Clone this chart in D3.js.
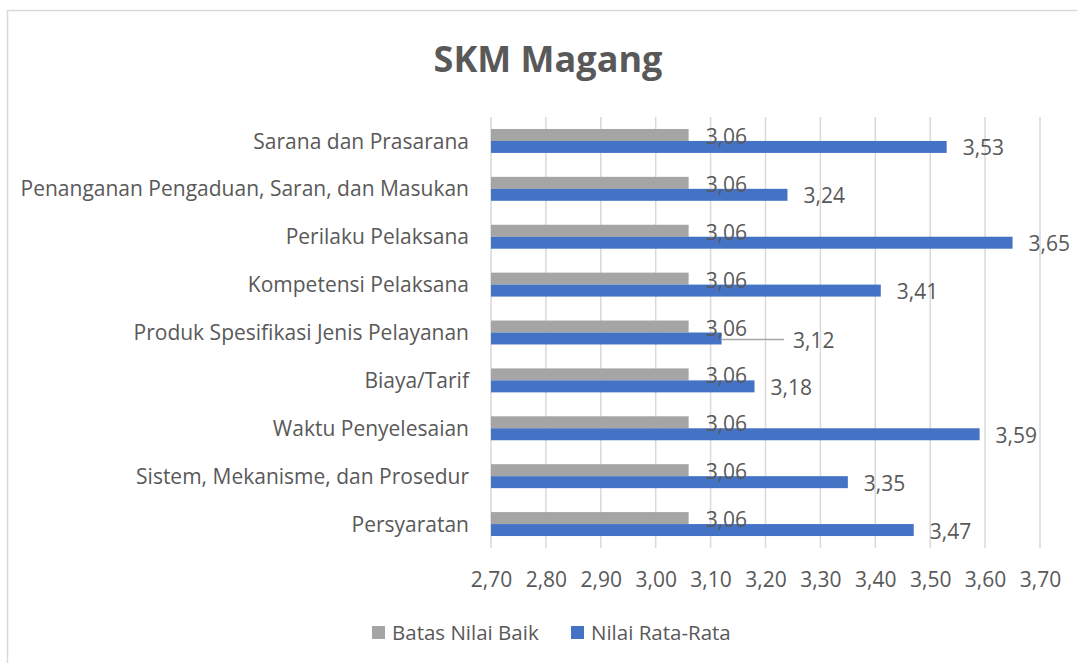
<!DOCTYPE html>
<html>
<head>
<meta charset="utf-8">
<script src="https://cdn.jsdelivr.net/npm/d3@7"></script>
<style>
  body { margin: 0; background: #fff; }
  svg text { font-family: "Open Sans", "Liberation Sans", sans-serif; fill: #595959; }
</style>
</head>
<body>
<svg id="chart" width="1077" height="663"></svg>
<script>
// categories, top to bottom as shown
var categories = [
  "Sarana dan Prasarana",
  "Penanganan Pengaduan, Saran, dan Masukan",
  "Perilaku Pelaksana",
  "Kompetensi Pelaksana",
  "Produk Spesifikasi Jenis Pelayanan",
  "Biaya/Tarif",
  "Waktu Penyelesaian",
  "Sistem, Mekanisme, dan Prosedur",
  "Persyaratan"
];
var batasNilaiBaik = [3.06, 3.06, 3.06, 3.06, 3.06, 3.06, 3.06, 3.06, 3.06];
var nilaiRataRata  = [3.53, 3.24, 3.65, 3.41, 3.12, 3.18, 3.59, 3.35, 3.47];
var seriesNames = ["Batas Nilai Baik", "Nilai Rata-Rata"];
var seriesColors = ["#A5A5A5", "#4472C4"];
var xTicks = [2.7, 2.8, 2.9, 3.0, 3.1, 3.2, 3.3, 3.4, 3.5, 3.6, 3.7];

var svg = d3.select("#chart");
var fmt = function(v){ return d3.format(".2f")(v).replace(".", ","); };

// chart border (runs off the right/bottom of the picture)
svg.append("rect")
   .attr("x", 7.5).attr("y", 10.5)
   .attr("width", 1200).attr("height", 800)
   .attr("fill", "none").attr("stroke", "#D9D9D9").attr("stroke-width", 1.5);

svg.append("text")
   .attr("x", 548).attr("y", 72)
   .attr("text-anchor", "middle")
   .style("font-size", "36px").style("font-weight", "bold")
   .text("SKM Magang");

var x = d3.scaleLinear().domain([2.7, 3.7]).range([491, 1040]);
var y = d3.scaleBand().domain(categories).range([117, 548])
          .paddingInner(0.5).paddingOuter(0.25);
var ySub = d3.scaleBand().domain([0, 1]).range([0, y.bandwidth()]);

// gridlines
svg.append("g").selectAll("line").data(xTicks).enter().append("line")
   .attr("x1", function(d){ return x(d); }).attr("x2", function(d){ return x(d); })
   .attr("y1", 117).attr("y2", 548)
   .attr("stroke", "#D9D9D9").attr("stroke-width", 1.5);

// x axis labels
var xAxis = d3.axisBottom(x).tickValues(xTicks).tickFormat(fmt).tickSize(0).tickPadding(0);
var gx = svg.append("g").attr("transform", "translate(0,572)").call(xAxis);
gx.select(".domain").remove();
gx.selectAll("text").style("font-size", "21px").attr("fill", "#595959");

// category labels
svg.append("g").selectAll("text").data(categories).enter().append("text")
   .attr("x", 469)
   .attr("y", function(d){ return y(d) + y.bandwidth() / 2; })
   .attr("dy", "0.36em")
   .attr("text-anchor", "end")
   .style("font-size", "21px")
   .text(function(d){ return d; });

var rows = categories.map(function(c, i){
  return { cat: c, vals: [batasNilaiBaik[i], nilaiRataRata[i]] };
});

var rowG = svg.append("g").selectAll("g").data(rows).enter().append("g")
   .attr("transform", function(d){ return "translate(0," + y(d.cat) + ")"; });

rowG.selectAll("rect").data(function(d){ return d.vals; }).enter().append("rect")
   .attr("x", x(2.7))
   .attr("y", function(d, j){ return ySub(j); })
   .attr("width", function(d){ return x(d) - x(2.7); })
   .attr("height", ySub.bandwidth())
   .attr("fill", function(d, j){ return seriesColors[j]; });

// data labels
var labelGap = 17;
rowG.each(function(d){
  var g = d3.select(this);
  var grayEnd = x(d.vals[0]);
  var grayLabel = g.append("text")
     .attr("x", grayEnd + labelGap)
     .attr("y", ySub(0) + ySub.bandwidth() / 2 + 1.5)
     .attr("dy", "0.36em")
     .style("font-size", "21px")
     .text(fmt(d.vals[0]));
  var grayLabelEnd = grayEnd + labelGap + grayLabel.node().getComputedTextLength();

  var blueEnd = x(d.vals[1]);
  var lx = blueEnd + 16;
  var ly = ySub(1) + ySub.bandwidth() / 2 + 1;
  if (lx < grayLabelEnd + 4) {
    // label would sit on top of the other one: push it right with a leader line
    lx = grayLabelEnd + 46;
    g.append("line")
     .attr("x1", blueEnd).attr("x2", lx - 9)
     .attr("y1", ly).attr("y2", ly)
     .attr("stroke", "#A6A6A6").attr("stroke-width", 1.5);
    ly += 1;
  }
  g.append("text")
   .attr("x", lx).attr("y", ly)
   .attr("dy", "0.36em")
   .style("font-size", "21px")
   .text(fmt(d.vals[1]));
});

// legend
var legendX = [372, 571];
var legend = svg.append("g").selectAll("g").data(seriesNames).enter().append("g")
   .attr("transform", function(d, i){ return "translate(" + legendX[i] + ",626)"; });
legend.append("rect").attr("width", 13).attr("height", 13)
   .attr("fill", function(d, i){ return seriesColors[i]; });
legend.append("text").attr("x", 20).attr("y", 6.5).attr("dy", "0.36em")
   .style("font-size", "20.5px")
   .text(function(d){ return d; });
</script>
</body>
</html>
